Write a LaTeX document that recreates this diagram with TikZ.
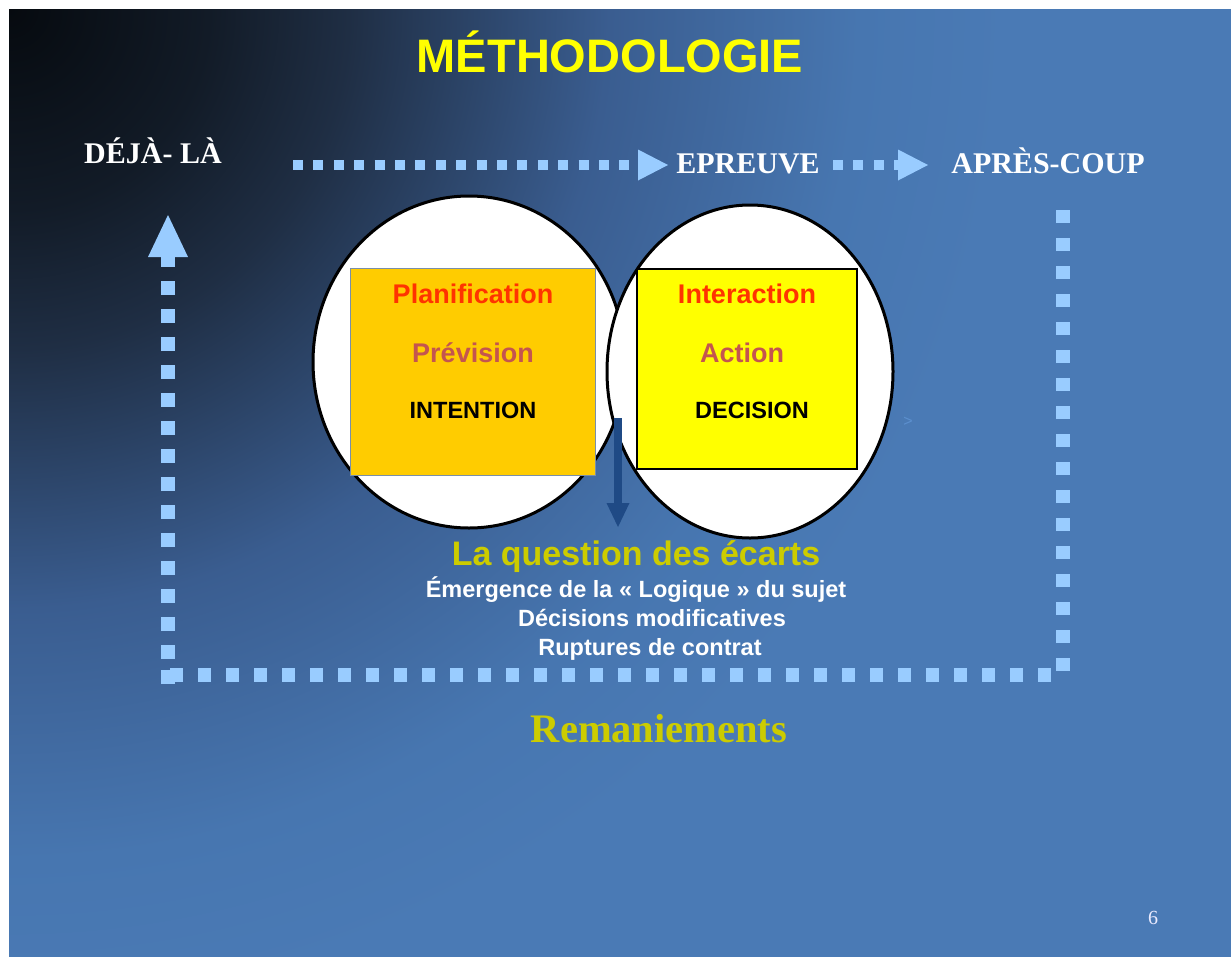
\documentclass[tikz,border=0pt]{standalone}
\usepackage{fontspec}
\setmainfont{Liberation Serif}
\newfontfamily\arialf{Liberation Sans}
\usetikzlibrary{arrows.meta,shapes.geometric}
\definecolor{bgA}{HTML}{060A0F}
\definecolor{bgB}{HTML}{121B27}
\definecolor{bgC}{HTML}{1F2E44}
\definecolor{bgD}{HTML}{3A5D90}
\definecolor{bgE}{HTML}{4776B0}
\definecolor{bgF}{HTML}{4A7AB5}
\definecolor{dotblue}{HTML}{99CCFF}
\definecolor{titleyellow}{HTML}{FFFF00}
\definecolor{olive}{HTML}{CCCC00}
\definecolor{redor}{HTML}{FF3300}
\definecolor{brownred}{HTML}{C4554F}
\definecolor{orangebox}{HTML}{FFCC00}
\definecolor{yellowbox}{HTML}{FFFF00}
\definecolor{arrowblue}{HTML}{1F4A85}
\definecolor{orangeedge}{HTML}{7A8FA8}
\definecolor{faint}{HTML}{5C90CF}
\pgfdeclareradialshading{bgshade}{\pgfpoint{0bp}{0bp}}{color(0bp)=(bgA); color(5bp)=(bgB); color(8.5bp)=(bgC); color(15bp)=(bgD); color(21.25bp)=(bgE); color(25bp)=(bgF); color(50bp)=(bgF)}
\tikzset{
  titlestyle/.style={font=\arialf\bfseries\fontsize{47}{50}\selectfont, text=titleyellow, inner sep=0pt, anchor=base},
  serifw/.style={font=\bfseries\fontsize{30}{32}\selectfont, text=white, inner sep=0pt, anchor=base},
  boxtxt/.style={font=\arialf\bfseries\fontsize{27}{30}\selectfont, inner sep=0pt, anchor=base},
  capstxt/.style={font=\arialf\bfseries\fontsize{23.5}{26}\selectfont, text=black, inner sep=0pt, anchor=base},
  ecarttxt/.style={font=\arialf\bfseries\fontsize{23.5}{26}\selectfont, text=white, inner sep=0pt, anchor=base},
  bubble/.style={ellipse, draw=black, line width=3pt, fill=white, inner sep=0pt},
  dotsmall/.style={draw=dotblue, line width=10pt, dash pattern=on 10pt off 10.4pt},
  dotbig/.style={draw=dotblue, line width=13.5pt, dash pattern=on 13.5pt off 14.5pt},
}
\begin{document}
\begin{tikzpicture}[x=1pt,y=-1pt]
\useasboundingbox (0,0) rectangle (1231,956);
\fill[white] (0,0) rectangle (1231,956);
\fill[bgF] (9,9) rectangle (1250,980);
\begin{scope}
  \clip (9,9) rectangle (1250,980);
  \shade[shading=bgshade] (9,9) circle[radius=1000];
\end{scope}

% title
\node[titlestyle] (titre) at (610,72) {MÉTHODOLOGIE};

% top labels
\node[serifw] (deja) at (153,163) {DÉJÀ- LÀ};
\node[serifw] (epreuve) at (748,173) {EPREUVE};
\node[serifw] (apres) at (1048,173) {APRÈS-COUP};

% top dotted arrows
\coordinate (t1s) at (293,165);
\coordinate (t1e) at (668,165);
\coordinate (t2s) at (833,165);
\coordinate (t2e) at (928,165);
\draw[dotsmall, -{Triangle[length=30pt,width=31pt,line width=0pt]}] (t1s) -- (t1e);
\draw[dotsmall, -{Triangle[length=30pt,width=31pt,line width=0pt]}] (t2s) -- (t2e);

% loop
\coordinate (r1) at (1063,671);
\coordinate (r0) at (1063,205);
\coordinate (b1) at (1051,675);
\coordinate (b0) at (161,675);
\coordinate (l0) at (168,684);
\coordinate (l1) at (168,215);
\draw[dotbig] (r1) -- (r0);
\draw[dotbig] (b1) -- (b0);
\draw[dotbig, dash pattern=on 14pt off 11pt on 14pt off 14pt on 14pt off 14pt on 14pt off 14pt on 14pt off 14pt on 14pt off 14pt on 14pt off 14pt on 14pt off 14pt on 14pt off 14pt on 14pt off 14pt on 14pt off 14pt on 14pt off 14pt on 14pt off 14pt on 14pt off 14pt on 14pt off 14pt on 14pt off 14pt on 14pt off 14pt, -{Triangle[length=42pt,width=40pt,line width=0pt]}] (l0) -- (l1);

% ellipses
\node[bubble, minimum width=312pt, minimum height=332pt] (ell1) at (469,362) {};
\node[bubble, minimum width=286pt, minimum height=333pt] (ell2) at (750,371.5) {};

% boxes
\node[draw=orangeedge, line width=1.2pt, fill=orangebox, minimum width=245pt, minimum height=207pt, inner sep=0pt] (box1) at (473,372) {};
\node[draw=black, line width=1.8pt, fill=yellowbox, minimum width=220pt, minimum height=200pt, inner sep=0pt] (box2) at (747,369) {};

\node[boxtxt, text=redor] (plan) at (473,303) {Planification};
\node[boxtxt, text=brownred] (prev) at (473,362) {Prévision};
\node[capstxt] (inten) at (473,418) {INTENTION};
\node[boxtxt, text=redor] (inter) at (747,303) {Interaction};
\node[boxtxt, text=brownred] (act) at (742,362) {Action};
\node[capstxt] (deci) at (752,418) {DECISION};

% faint chevron
\node[font=\arialf\fontsize{16}{16}\selectfont, text=faint, inner sep=0pt] (chev) at (908,422) {>};

% down arrow
\coordinate (a0) at (618,418);
\node[font=\arialf\bfseries\fontsize{34}{36}\selectfont, text=olive, inner sep=0pt, anchor=base] (quest) at (636,565) {La question des écarts};
\coordinate (a1) at (618,527);
\draw[arrowblue, line width=7.5pt, -{Triangle[length=24pt,width=23pt,line width=0pt]}] (a0) -- (a1);

% lines
\node[ecarttxt] (emerg) at (636,597) {Émergence de la « Logique » du sujet};
\node[ecarttxt] (decis) at (652,626) {Décisions modificatives};
\node[ecarttxt] (rupt) at (650,655) {Ruptures de contrat};

\node[font=\bfseries\fontsize{40.5}{42}\selectfont, text=olive, inner sep=0pt, anchor=base] (rema) at (659,742) {Remaniements};

\node[font=\fontsize{20}{20}\selectfont, text=white!92!blue, inner sep=0pt, anchor=base] (page) at (1153,924) {6};
\end{tikzpicture}
\end{document}
